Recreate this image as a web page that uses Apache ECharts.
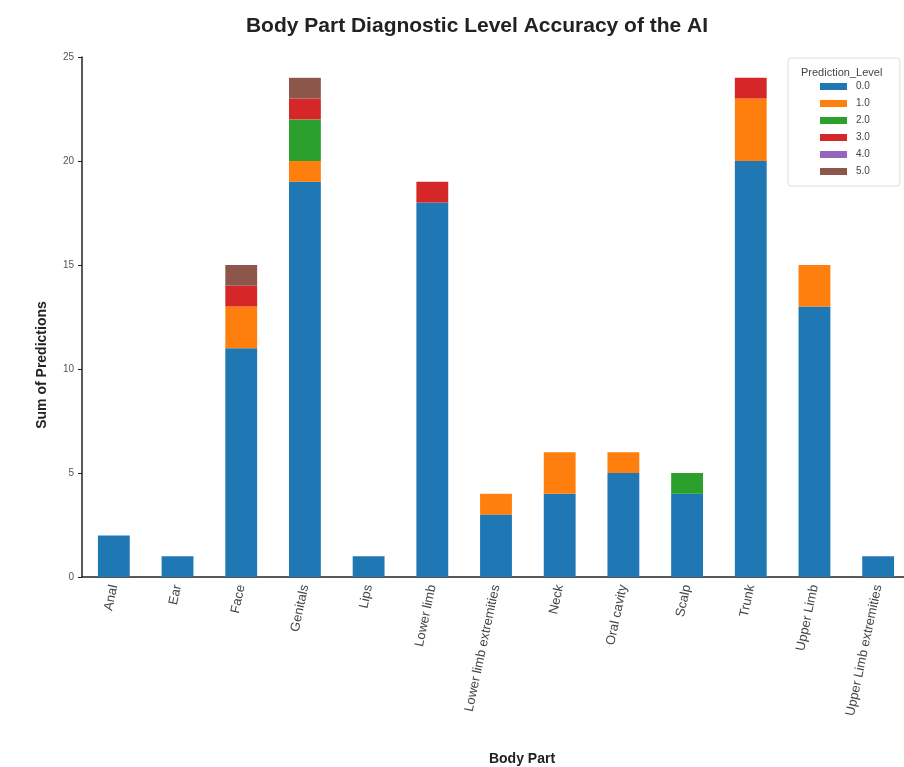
<!DOCTYPE html>
<html>
<head>
<meta charset="utf-8">
<script src="https://cdn.jsdelivr.net/npm/echarts@6/dist/echarts.min.js"></script>
<style>html,body{margin:0;padding:0;background:#fff;}#c{width:904px;height:767px;}</style>
</head>
<body>
<div id="c"></div>
<script>
const categories = ["Anal","Ear","Face","Genitals","Lips","Lower limb","Lower limb extremities","Neck","Oral cavity","Scalp","Trunk","Upper Limb","Upper Limb extremities"];
const levelNames = ["0.0","1.0","2.0","3.0","4.0","5.0"];
const level0 = [2,1,11,19,1,18,3,4,5,4,20,13,1];
const level1 = [0,0,2,1,0,0,1,2,1,0,3,2,0];
const level2 = [0,0,0,2,0,0,0,0,0,1,0,0,0];
const level3 = [0,0,1,1,0,1,0,0,0,0,1,0,0];
const level4 = [0,0,0,0,0,0,0,0,0,0,0,0,0];
const level5 = [0,0,1,1,0,0,0,0,0,0,0,0,0];
const yTicks = [0,5,10,15,20,25];
const colors = ["#1f77b4","#ff7f0e","#2ca02c","#d62728","#9467bd","#8c564b"];
const levels = [level0,level1,level2,level3,level4,level5];

const chart = echarts.init(document.getElementById('c'));
const font = "'Liberation Sans', Arial, sans-serif";
chart.setOption({
  animation: false,
  textStyle: {fontFamily: font},
  title: [
    {text: "Body Part Diagnostic Level Accuracy of the AI", left: 472, top: 11, textAlign: 'center',
     textStyle: {fontSize: 21, fontWeight: 'bold', color: '#222', fontFamily: font}},
    {text: "Prediction_Level", left: 796, top: 62,
     textStyle: {fontSize: 11, fontWeight: 'normal', color: '#444', fontFamily: font}}
  ],
  legend: {
    orient: 'vertical', left: 788, top: 58,
    padding: [23, 30, 9, 32],
    itemGap: 6, itemWidth: 27, itemHeight: 7,
    borderColor: '#ddd', borderWidth: 1, borderRadius: 3,
    textStyle: {fontSize: 10, color: '#444', lineHeight: 11, padding: [0,0,0,4]},
    icon: 'rect',
    data: levelNames
  },
  grid: {left: 82, top: 57, width: 828, height: 520, containLabel: false, outerBoundsMode: 'none'},
  xAxis: {
    type: 'category', data: categories,
    name: 'Body Part', nameLocation: 'middle', nameGap: 175,
    nameTextStyle: {fontSize: 14, fontWeight: 'bold', color: '#222', padding: [0,0,0,52]},
    axisLine: {lineStyle: {color: '#222', width: 1.5}},
    axisTick: {alignWithLabel: true, length: 4, lineStyle: {color: '#222'}},
    axisLabel: {rotate: 78, fontSize: 13, color: '#444', margin: 8, interval: 0},
  },
  yAxis: {
    type: 'value', min: 0, max: 25, interval: 5,
    axisLine: {show: true, lineStyle: {color: '#222', width: 1.5}},
    axisTick: {show: true, length: 4, lineStyle: {color: '#222'}},
    axisLabel: {fontSize: 10, color: '#555', margin: 8, formatter: v => yTicks.includes(v) ? String(v) : ''},
    splitLine: {show: false}
  },
  graphic: [{
    type: 'text', x: 42, y: 365, rotation: Math.PI / 2,
    style: {text: 'Sum of Predictions', font: "bold 14px 'Liberation Sans', Arial, sans-serif",
            fill: '#222', textAlign: 'center', textVerticalAlign: 'middle'}
  }],
  series: levels.map((d, i) => ({
    name: levelNames[i], type: 'bar', stack: 'total', data: d,
    barWidth: '50%', itemStyle: {color: colors[i]}
  }))
});
</script>
</body>
</html>
